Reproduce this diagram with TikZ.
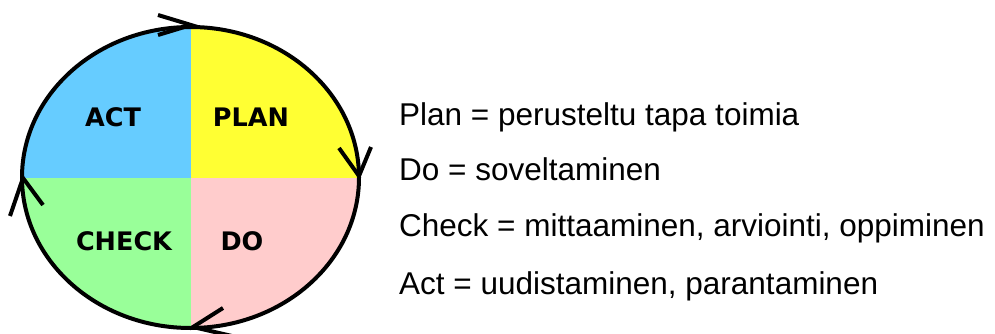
\documentclass[tikz,border=0pt]{standalone}
\usepackage{fontspec}
\setmainfont{Liberation Sans}
\newfontfamily\labelfont{DejaVu Sans Bold}
\definecolor{actblue}{HTML}{66CCFF}
\definecolor{planyellow}{HTML}{FFFF33}
\definecolor{checkgreen}{HTML}{99FF99}
\definecolor{dopink}{HTML}{FFCCCC}
\begin{document}
\begin{tikzpicture}[x=1pt,y=-1pt,
  quadlabel/.style={anchor=base,inner sep=0pt,font=\labelfont\fontsize{25.5}{26}\selectfont},
  legend/.style={anchor=base west,inner sep=0pt,font=\fontsize{31.5}{34}\selectfont},
  rim/.style={line width=4pt},
  chev/.style={line width=4pt,line join=miter}]
\useasboundingbox (0,0) rectangle (995,334);
\fill[white] (0,0) rectangle (995,334);
\coordinate (c) at (190.5,177.5);
\begin{scope}
  \clip (c) ellipse [x radius=168.5pt, y radius=150.5pt];
  \fill[actblue] (0,0) rectangle (190.5,177.5);
  \fill[planyellow] (190.5,0) rectangle (380,177.5);
  \fill[checkgreen] (0,177.5) rectangle (190.5,334);
  \fill[dopink] (190.5,177.5) rectangle (380,334);
\end{scope}
\draw[rim] (c) ellipse [x radius=168.5pt, y radius=150.5pt];
% chevrons
\draw[chev] (158,15) -- (191,25) -- (158,35);
\draw[chev] (339,148) -- (359,176) -- (371,147);
\draw[chev] (223,308) -- (193,327) -- (232,336);
\draw[chev] (43,205) -- (23,178) -- (10,216);
% quadrant labels
\node[quadlabel] (act) at (113,127) {ACT};
\node[quadlabel] (plan) at (251,127) {PLAN};
\node[quadlabel] (check) at (124,250) {CHECK};
\node[quadlabel] (do) at (242,250) {DO};
% legend
\node[legend] (lplan) at (399,125) {Plan = perusteltu tapa toimia};
\node[legend] (ldo) at (399,180) {Do = soveltaminen};
\node[legend] (lcheck) at (399,236) {Check = mittaaminen, arviointi, oppiminen};
\node[legend] (lact) at (399,294) {Act = uudistaminen, parantaminen};
\end{tikzpicture}
\end{document}
